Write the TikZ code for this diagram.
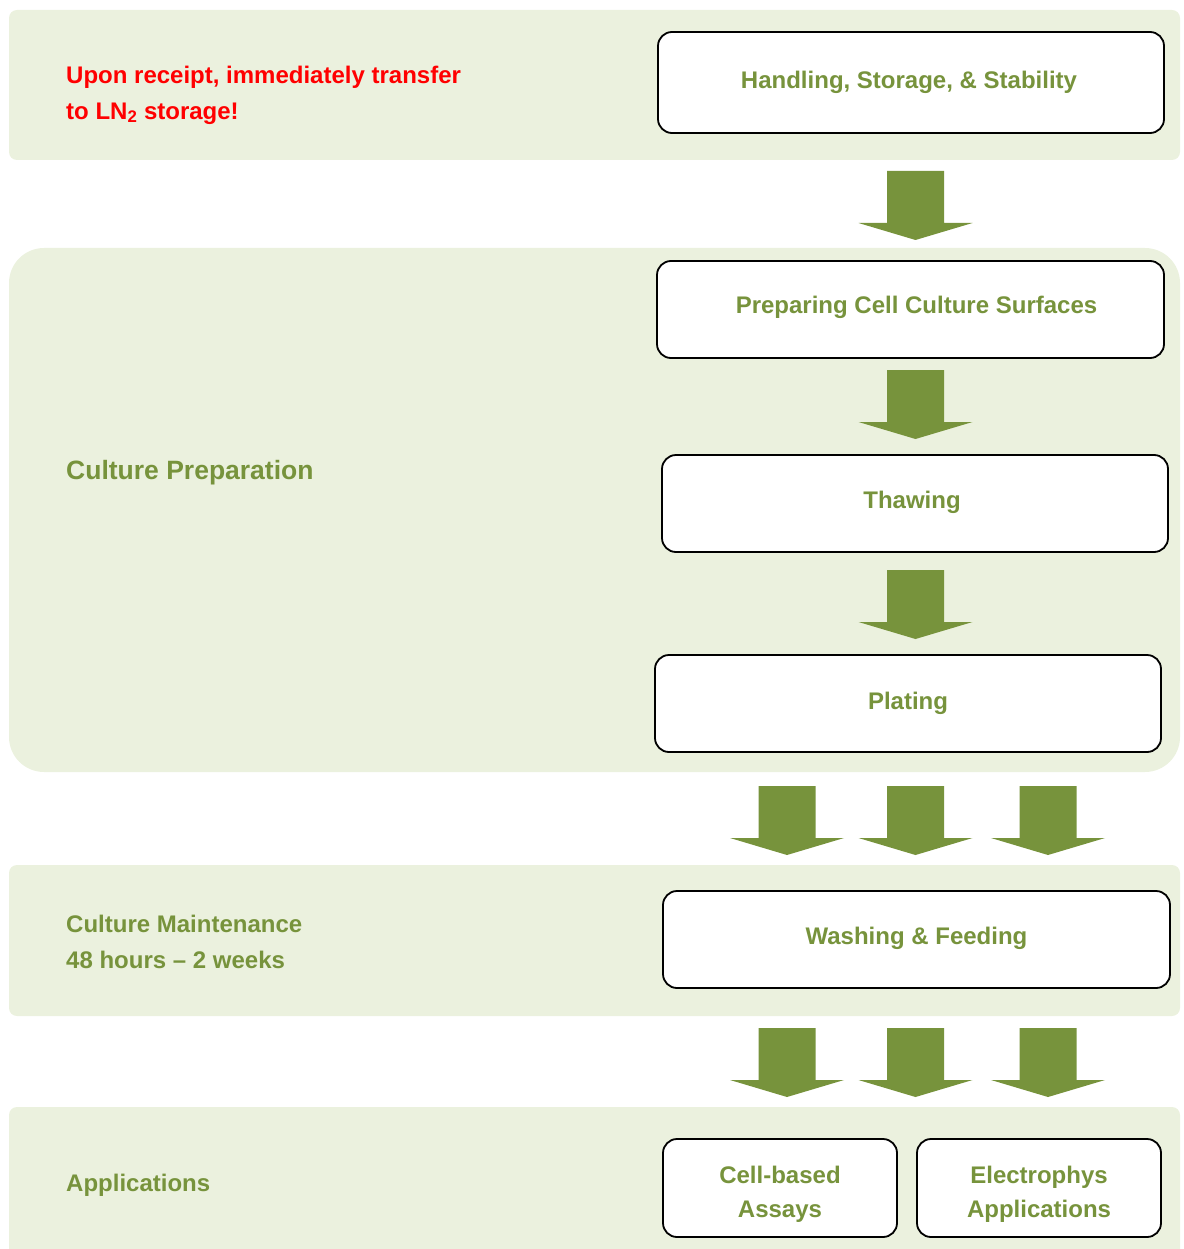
\documentclass[tikz,border=0pt]{standalone}
\usepackage{fontspec}
\setmainfont{Liberation Sans}
\definecolor{band}{HTML}{EBF1DE}
\definecolor{leaf}{HTML}{77933C}
\definecolor{alarm}{HTML}{FF0000}
\tikzset{
  bandbox/.style={fill=band, draw=none},
  stepbox/.style={draw=black, line width=1.8pt, fill=white, rounded corners=14pt,
    inner sep=0pt, align=center, text=leaf,
    font=\bfseries\fontsize{24}{34}\selectfont},
  twoline/.style={text height=46pt, text depth=22pt},
  sidelabel/.style={anchor=west, inner sep=0pt, align=left, text=leaf,
    font=\bfseries\fontsize{24}{36}\selectfont},
  blockarrow/.style={fill=leaf, draw=none},
  pics/downarrow/.style={code={
    \fill[blockarrow] (-28.5,0) -- (28.5,0) -- (28.5,52) -- (57,52) -- (0,69)
      -- (-57,52) -- (-28.5,52) -- cycle;}}
}
\begin{document}
\begin{tikzpicture}[x=1pt, y=-1pt]
\useasboundingbox (0,0) rectangle (1183,1249);
\clip (0,0) rectangle (1183,1249);
% bands
\fill[bandbox, rounded corners=8pt] (9,10) rectangle (1180,160);
\fill[bandbox, rounded corners=35pt] (9,248) rectangle (1180,772);
\fill[bandbox, rounded corners=8pt] (9,865) rectangle (1180,1016);
\fill[bandbox, rounded corners=8pt] (9,1107) rectangle (1180,1262);
% left labels
\node[sidelabel, text=alarm] (warn) at (66,95) {Upon receipt, immediately transfer\\to LN\textsubscript{2} storage!};
\node[sidelabel, font=\bfseries\fontsize{26.5}{36}\selectfont] (prep) at (66,473) {Culture Preparation};
\node[sidelabel] (maint) at (66,942) {Culture Maintenance\\48 hours -- 2 weeks};
\node[sidelabel] (apps) at (66,1185) {Applications};
% boxes
\node[stepbox, minimum width=506pt, minimum height=101pt] (hand) at (911,82.5) {\raisebox{2pt}{Handling, Storage, \& Stability\hspace*{4pt}}};
\node[stepbox, minimum width=507pt, minimum height=97pt] (surf) at (910.5,309.5) {\raisebox{9pt}{\hspace*{12pt}Preparing Cell Culture Surfaces}};
\node[stepbox, minimum width=506pt, minimum height=97pt] (thaw) at (915,503.5) {\raisebox{8pt}{Thawing\hspace*{6pt}}};
\node[stepbox, minimum width=506pt, minimum height=97pt] (plat) at (908,703.5) {\raisebox{2pt}{Plating}};
\node[stepbox, minimum width=507pt, minimum height=97pt] (wash) at (916.5,939.5) {\raisebox{8pt}{Washing \& Feeding}};
\node[stepbox, twoline, minimum width=234pt, minimum height=98pt] (cell) at (780,1188) {\begin{tabular}{@{}c@{}}Cell-based\\Assays\end{tabular}};
\node[stepbox, twoline, minimum width=244pt, minimum height=98pt] (ephys) at (1039,1188) {\begin{tabular}{@{}c@{}}Electrophys\\Applications\end{tabular}};
% arrows
\pic at (915.5,171) {downarrow};
\pic at (915.5,370) {downarrow};
\pic at (915.5,570) {downarrow};
\pic at (787,786) {downarrow};
\pic at (915.5,786) {downarrow};
\pic at (1048,786) {downarrow};
\pic at (787,1028) {downarrow};
\pic at (915.5,1028) {downarrow};
\pic at (1048,1028) {downarrow};
\end{tikzpicture}
\end{document}
